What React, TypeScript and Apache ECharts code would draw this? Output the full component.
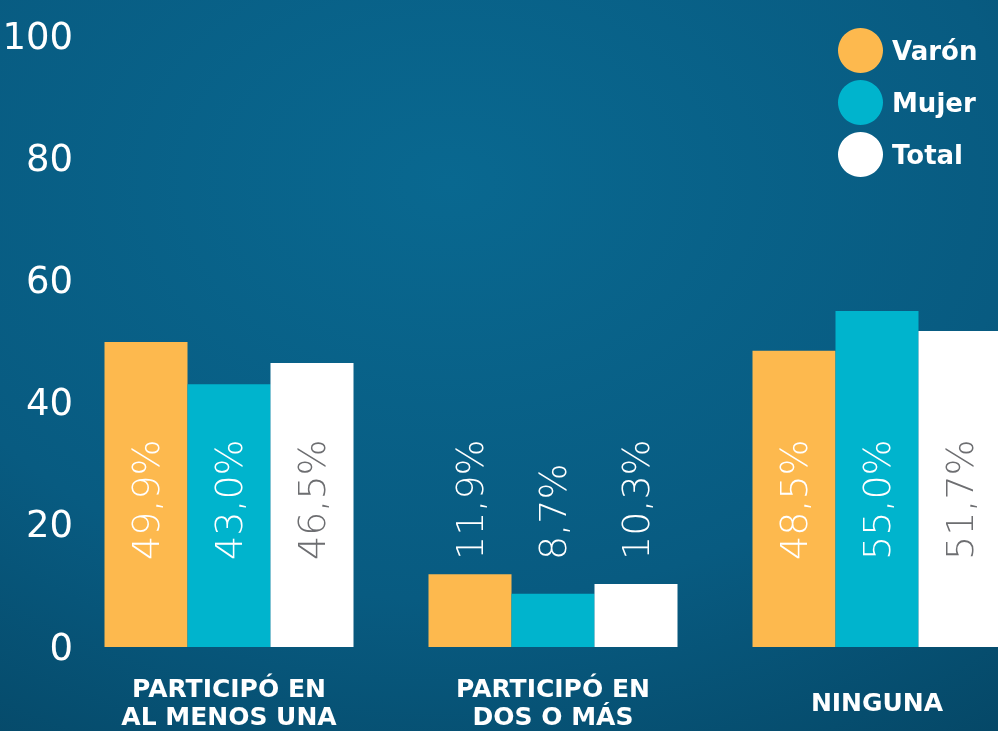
import React, { useEffect, useRef } from "react";
import * as echarts from "echarts";

const categories = ["PARTICIPÓ EN\nAL MENOS UNA", "PARTICIPÓ EN\nDOS O MÁS", "NINGUNA"];
const seriesNames = ["Varón", "Mujer", "Total"];
const varon = [49.9, 11.9, 48.5];
const mujer = [43.0, 8.7, 55.0];
const total = [46.5, 10.3, 51.7];
const yTicks = [0, 20, 40, 60, 80, 100];

const COLORS = ["#fdb94e", "#00b4cd", "#ffffff"];
const GRAY = "#6d6e71";

const fmt = (v: number) => v.toFixed(1).replace(".", ",") + "%";

export default function App() {
  const ref = useRef<HTMLDivElement>(null);
  useEffect(() => {
    if (!ref.current) return;
    const chart = echarts.init(ref.current, undefined, { renderer: "svg" });
    const values = [varon, mujer, total];
    const makeData = (arr: number[], idx: number) =>
      arr.map((v) => ({
        value: v,
        label: { color: idx === 2 && v > 20 ? GRAY : "#ffffff" },
      }));
    chart.setOption({
      animation: false,
      backgroundColor: {
        type: "radial",
        x: 0.45,
        y: 0.25,
        r: 0.95,
        colorStops: [
          { offset: 0, color: "#096890" },
          { offset: 0.6, color: "#085b81" },
          { offset: 1, color: "#054766" },
        ],
      },
      legend: {
        data: seriesNames,
        orient: "vertical",
        left: 838,
        top: 28,
        padding: 0,
        icon: "circle",
        itemWidth: 45,
        itemHeight: 45,
        itemGap: 7,
        selectedMode: false,
        textStyle: {
          color: "#ffffff",
          fontSize: 26,
          fontWeight: 600,
          fontFamily: "DejaVu Sans",
          padding: [0, 0, 0, 4],
        },
      },
      grid: {
        left: 67,
        right: -41,
        top: 36,
        bottom: 84,
        containLabel: false,
        outerBoundsMode: "none",
      },
      xAxis: {
        type: "category",
        data: categories,
        axisLine: { show: false },
        axisTick: { show: false },
        axisLabel: {
          color: "#ffffff",
          fontSize: 25,
          fontWeight: 600,
          fontFamily: "DejaVu Sans",
          lineHeight: 28,
          margin: 55,
          verticalAlign: "middle",
          interval: 0,
        },
      },
      yAxis: {
        type: "value",
        min: yTicks[0],
        max: yTicks[yTicks.length - 1],
        interval: 20,
        splitLine: { show: false },
        axisLine: { show: false },
        axisTick: { show: false },
        axisLabel: {
          color: "#ffffff",
          fontSize: 37,
          fontFamily: "DejaVu Sans",
          fontWeight: "normal",
          margin: -6,
          align: "right",
        },
      },
      series: seriesNames.map((name, i) => ({
        name,
        type: "bar",
        data: makeData(values[i], i),
        barWidth: 83,
        barGap: "0%",
        itemStyle: { color: COLORS[i] },
        label: {
          show: true,
          position: "insideBottom",
          distance: 87,
          rotate: 90,
          align: "left",
          verticalAlign: "middle",
          fontSize: 38,
          fontFamily: "DejaVu Sans",
          fontWeight: 200,
          formatter: (p: any) => fmt(p.value),
        },
      })),
    });
    return () => chart.dispose();
  }, []);
  return (
    <div
      ref={ref}
      style={{ position: "fixed", left: 0, top: 0, width: 998, height: 731 }}
    />
  );
}
